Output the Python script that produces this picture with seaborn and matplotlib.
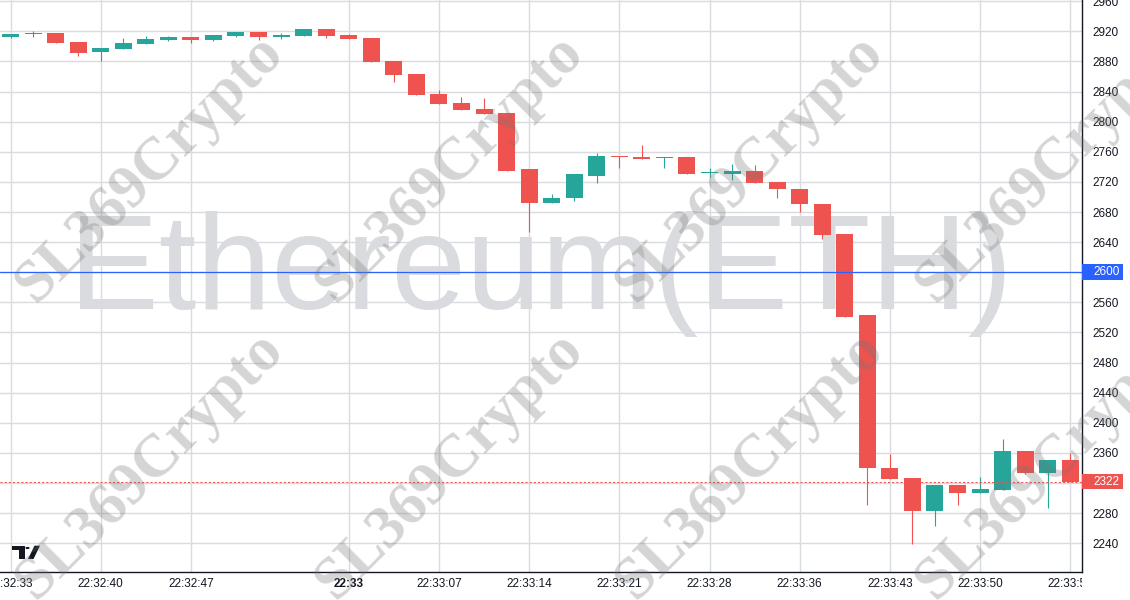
import numpy as np
import pandas as pd
import matplotlib
matplotlib.use('Agg')
import matplotlib.pyplot as plt
import seaborn as sns
from matplotlib.patches import Rectangle, Polygon, Circle
from matplotlib.transforms import Bbox, TransformedBbox, blended_transform_factory

# OHLC values (one candle per bar)
opens = [2912, 2916, 2918, 2905.5, 2892, 2896, 2903, 2908.5, 2912.5, 2908.5,
         2914, 2919, 2913, 2914, 2923, 2915, 2911, 2880.5, 2863, 2836.5,
         2824.5, 2816.5, 2811, 2736.5, 2692.5, 2698, 2728.5, 2755, 2753.5, 2751.5,
         2752.5, 2732, 2731, 2735, 2720.5, 2711, 2691, 2651, 2543, 2340.5,
         2327, 2283, 2318, 2307, 2311, 2362, 2334, 2350]
highs = [2916.5, 2920, 2918, 2905.5, 2898, 2911, 2914, 2914, 2913, 2915,
         2919, 2919, 2918, 2923, 2923, 2916.5, 2911, 2880.5, 2863, 2842,
         2832.5, 2831, 2811, 2736.5, 2704.5, 2730, 2758, 2755, 2768.5, 2752.5,
         2752.5, 2739, 2744, 2743, 2720.5, 2711, 2691, 2651, 2543, 2358,
         2327, 2318, 2318, 2328.5, 2379, 2362, 2350, 2360.5]
lows = [2911.5, 2913, 2904, 2887, 2880, 2896, 2903, 2907, 2904.5, 2907,
        2912.5, 2908.5, 2910, 2914, 2911.5, 2910, 2879, 2852.5, 2835, 2823,
        2815, 2810, 2735, 2654, 2692.5, 2694, 2718, 2739, 2751, 2739,
        2731, 2727, 2723, 2719, 2699, 2680.5, 2644.5, 2541, 2291, 2326,
        2239, 2263, 2291, 2307, 2311, 2332.5, 2287, 2322]
closes = [2916, 2918, 2904, 2891, 2898, 2904, 2910, 2912.5, 2908.5, 2915,
          2919, 2912.5, 2915, 2923, 2914, 2910, 2879, 2862, 2835, 2823,
          2815, 2810, 2735, 2692.5, 2699, 2730, 2755, 2752.5, 2751, 2752.5,
          2731, 2733, 2735, 2719, 2710, 2690, 2650, 2541, 2339.5, 2326,
          2283, 2318, 2307, 2312.5, 2362, 2334, 2350, 2322]

tick_idx = [0, 4, 8, 15, 19, 23, 27, 31, 35, 39, 43, 47]
tick_labels = ['22:32:33', '22:32:40', '22:32:47', '22:33', '22:33:07', '22:33:14',
               '22:33:21', '22:33:28', '22:33:36', '22:33:43', '22:33:50', '22:33:57']
price_ticks = list(range(2240, 2961, 40))
hline_price = 2600
last_price = 2322

up_col = '#26a69a'
down_col = '#ef5350'
text_col = '#131722'

df = pd.DataFrame({'open': opens, 'high': highs, 'low': lows, 'close': closes})
df['idx'] = np.arange(len(df))
df['color'] = np.where(df['close'] >= df['open'], up_col, down_col)

sns.set_theme(style='white')
plt.rcParams['font.family'] = ['Liberation Sans', 'DejaVu Sans']

W, H = 1130, 600
fig = plt.figure(figsize=(W / 100, H / 100), dpi=100)
ax_right = 1082
ax = fig.add_axes([0, 28 / H, ax_right / W, 572 / H])


def px(x, y):
    # figure pixel (from top-left) -> figure fraction
    return (x / W, 1 - y / H)


# big symbol watermark behind everything
ax.text(541 / ax_right, (572 - 309) / 572, 'Ethereum(ETH)', transform=ax.transAxes,
        ha='center', va='baseline', fontsize=97, color='#dadbde', zorder=0.3)

# candles
ax.vlines(df['idx'], df['low'], df['high'], colors=df['color'], linewidth=0.8, zorder=3)
body = (df['close'] - df['open']).abs().clip(lower=1.3)
ax.bar(df['idx'], body, bottom=df[['open', 'close']].min(axis=1), width=0.754,
       color=df['color'], linewidth=0, zorder=3)

ax.set_xlim(-0.466, 47.52)
ax.set_ylim(2201.9, 2961.6)

# grid + axes
ax.set_yticks(price_ticks)
ax.set_yticklabels(['' if p in (2320, 2600) else str(p) for p in price_ticks])
ax.yaxis.tick_right()
ax.set_xticks(tick_idx)
ax.set_xticklabels(tick_labels)
ax.grid(True, color='#d8dbe0', linewidth=1)
ax.tick_params(axis='both', length=0, labelsize=8.5, labelcolor=text_col)
ax.tick_params(axis='y', pad=7.7)
ax.tick_params(axis='x', pad=4.5)
for lab in ax.get_xticklabels():
    if lab.get_text() == '22:33':
        lab.set_fontweight('bold')
last_lab = ax.get_xticklabels()[-1]
last_lab.set_clip_on(True)
last_lab.set_clip_box(TransformedBbox(Bbox([[0, 0], [ax_right / W, 1]]), fig.transFigure))

for side in ['top', 'left']:
    ax.spines[side].set_visible(False)
for side in ['right', 'bottom']:
    ax.spines[side].set_color(text_col)
    ax.spines[side].set_linewidth(1)

# price lines and their labels on the scale
ax.axhline(hline_price, color='#2962ff', linewidth=0.9, zorder=4)
ax.axhline(last_price, color=down_col, linewidth=0.75, linestyle=(0, (2, 2)), zorder=4)
trans = blended_transform_factory(ax.transAxes, ax.transData)
for price, col in [(hline_price, '#2962ff'), (last_price, down_col)]:
    ax.add_patch(Rectangle((1.0, price - 10.5), 41 / ax_right, 21, transform=trans,
                           facecolor=col, edgecolor='none', clip_on=False, zorder=5))
    ax.text(1 + 11 / ax_right, price, str(price), transform=trans, color='white',
            fontsize=8.5, ha='left', va='center', zorder=6, clip_on=False)

# TradingView logo
logo = text_col
fig.add_artist(Polygon([px(12, 545.7), px(24.5, 545.7), px(24.5, 559), px(19, 559),
                        px(19, 550.3), px(12, 550.3)], closed=True, facecolor=logo,
                       edgecolor='none', transform=fig.transFigure))
fig.add_artist(Circle(px(27.5, 548), 2.1 / W, facecolor=logo, edgecolor='none',
                      transform=fig.transFigure))
fig.add_artist(Polygon([px(28, 559), px(33.5, 559), px(40, 545.7), px(34.5, 545.7)],
                       closed=True, facecolor=logo, edgecolor='none', transform=fig.transFigure))

# repeated diagonal watermark
for cy in [168, 465]:
    for cx in [150, 450, 750, 1050]:
        x, y = px(cx, cy)
        fig.text(x, y, 'SL369Crypto', family='Liberation Serif', weight='bold',
                 fontsize=44, color='#737373', alpha=0.3, rotation=45,
                 rotation_mode='anchor', ha='center', va='center', zorder=10)

fig.savefig('out.png', dpi=100)
